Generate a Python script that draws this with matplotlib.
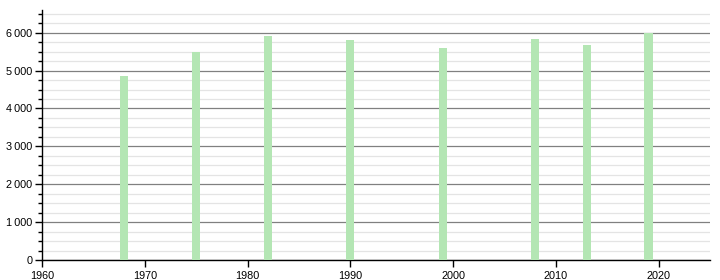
import numpy as np
import matplotlib.pyplot as plt
from matplotlib.ticker import MultipleLocator, FuncFormatter

plt.rcParams['font.family'] = ['Liberation Sans', 'DejaVu Sans']

annees = [1968, 1975, 1982, 1990, 1999, 2008, 2013, 2019]
population = [4860, 5490, 5920, 5810, 5590, 5830, 5680, 5990]

fig = plt.figure(figsize=(7.2, 2.8), dpi=100)
ax = fig.add_axes([0.0583, 0.0714, 0.928, 0.893])

ax.bar(annees, population, width=0.8, color='#b4e6b4', zorder=3)

ax.set_xlim(1960, 2025)
ax.set_ylim(0, 6600)
ax.xaxis.set_major_locator(MultipleLocator(10))
ax.yaxis.set_major_locator(MultipleLocator(1000))
ax.yaxis.set_minor_locator(MultipleLocator(250))
ax.yaxis.set_major_formatter(FuncFormatter(lambda v, p: f"{int(v):,}".replace(',', '\u2009')))

ax.grid(axis='y', which='major', color='#808080', linewidth=0.9, zorder=1)
ax.grid(axis='y', which='minor', color='#e4e4e4', linewidth=0.9, zorder=1)

for s in ['top', 'right']:
    ax.spines[s].set_visible(False)
ax.spines['left'].set_linewidth(1)
ax.spines['bottom'].set_linewidth(1)
ax.tick_params(axis='both', which='major', length=5, width=1, labelsize=7.8, pad=2)
ax.tick_params(axis='x', which='major', pad=3)
ax.tick_params(axis='y', which='minor', length=3, width=1)

plt.savefig('out.png', dpi=100)
